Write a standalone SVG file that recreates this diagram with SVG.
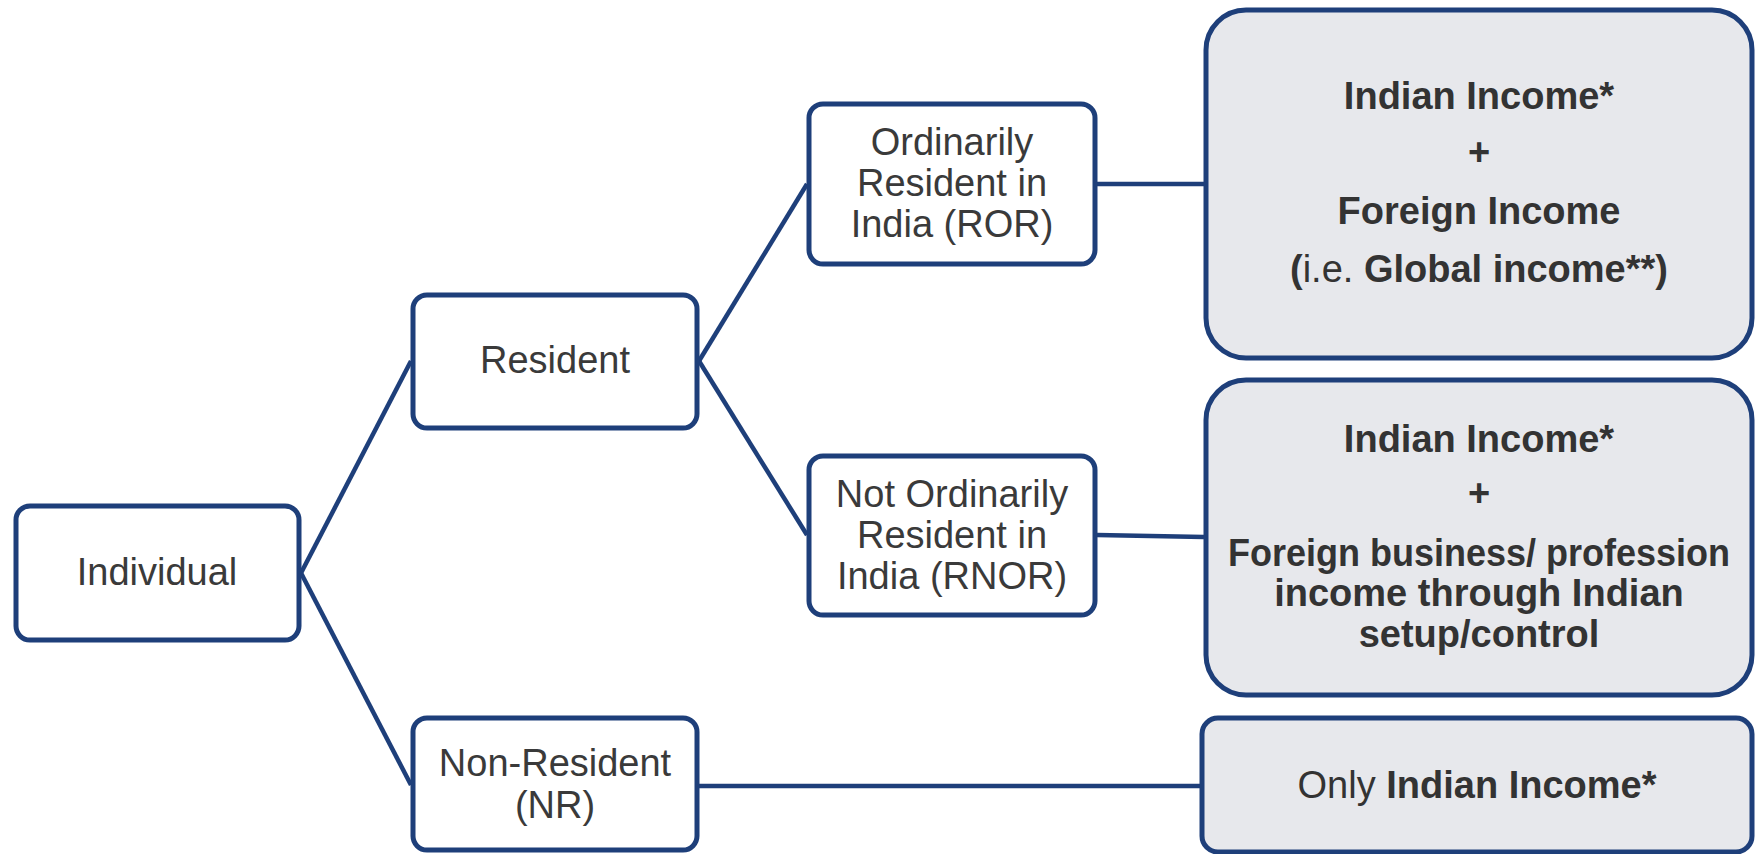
<svg xmlns="http://www.w3.org/2000/svg" width="1755" height="854" viewBox="0 0 1755 854">
<style>
.box{fill:#ffffff;stroke:#1E3F7A;stroke-width:5}
.rbox{fill:#E7E8EC;stroke:#1E3F7A;stroke-width:5}
.conn line{stroke:#1E3F7A;stroke-width:4.5}
.t{font-family:"Liberation Sans",Arial,sans-serif;font-size:38px;fill:#3A3A3A;text-anchor:middle}
.b{font-family:"Liberation Sans",Arial,sans-serif;font-size:38px;font-weight:bold;fill:#333333;text-anchor:middle}
.n{font-weight:normal}
</style>
<rect width="1755" height="854" fill="#ffffff"/>
<g id="connectors" class="conn">
<line x1="301" y1="573" x2="411" y2="361"/>
<line x1="301" y1="573" x2="411" y2="785"/>
<line x1="699" y1="361" x2="807" y2="184"/>
<line x1="699" y1="361" x2="807" y2="535"/>
<line x1="1097" y1="184" x2="1204" y2="184"/>
<line x1="1097" y1="535" x2="1204" y2="537"/>
<line x1="699" y1="786" x2="1200" y2="786"/>
</g>
<g id="individual">
<rect class="box" x="16" y="506" width="283" height="134" rx="14"/>
<text class="t" x="157" y="585">Individual</text>
</g>
<g id="resident">
<rect class="box" x="413" y="295" width="284" height="133" rx="14"/>
<text class="t" x="555" y="373">Resident</text>
</g>
<g id="non-resident">
<rect class="box" x="413" y="718" width="284" height="132" rx="14"/>
<text class="t" x="555" y="776">Non-Resident</text>
<text class="t" x="555" y="818">(NR)</text>
</g>
<g id="ror">
<rect class="box" x="809" y="104" width="286" height="160" rx="14"/>
<text class="t" x="952" y="155">Ordinarily</text>
<text class="t" x="952" y="196">Resident in</text>
<text class="t" x="952" y="237">India (ROR)</text>
</g>
<g id="rnor">
<rect class="box" x="809" y="456" width="286" height="159" rx="14"/>
<text class="t" x="952" y="507">Not Ordinarily</text>
<text class="t" x="952" y="548">Resident in</text>
<text class="t" x="952" y="589">India (RNOR)</text>
</g>
<g id="global-income">
<rect class="rbox" x="1206" y="10" width="546" height="348" rx="40"/>
<text class="b" x="1479" y="109">Indian Income*</text>
<text class="b" x="1479" y="165">+</text>
<text class="b" x="1479" y="224">Foreign Income</text>
<text class="b" x="1479" y="282">(<tspan class="n">i.e.</tspan> Global income**)</text>
</g>
<g id="rnor-income">
<rect class="rbox" x="1206" y="380" width="546" height="315" rx="40"/>
<text class="b" x="1479" y="452">Indian Income*</text>
<text class="b" x="1479" y="506">+</text>
<text class="b" x="1479" y="566" textLength="502" lengthAdjust="spacingAndGlyphs">Foreign business/ profession</text>
<text class="b" x="1479" y="606">income through Indian</text>
<text class="b" x="1479" y="647">setup/control</text>
</g>
<g id="nr-income">
<rect class="rbox" x="1202" y="718" width="550" height="134" rx="16"/>
<text class="b" x="1477" y="798"><tspan class="n">Only</tspan> Indian Income*</text>
</g>
</svg>
